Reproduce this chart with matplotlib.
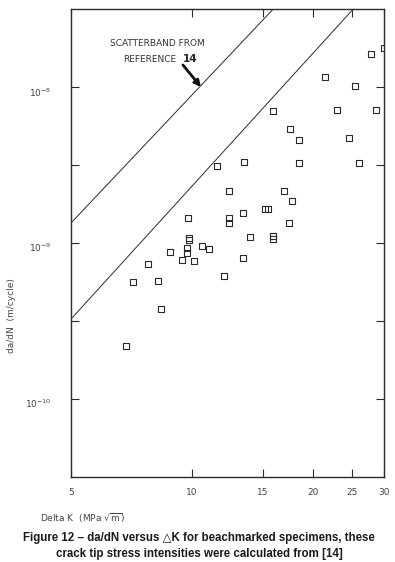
import numpy as np
import matplotlib
matplotlib.use("Agg")
import matplotlib.pyplot as plt
import matplotlib.transforms as mtransforms

plt.rcParams['mathtext.default'] = 'regular'

# delta K (MPa sqrt m) and da/dN (m/cycle)
dK = [6.85, 7.14, 8.24, 8.35, 7.76, 8.81, 9.42, 10.11, 9.69, 9.69,
      9.82, 9.82, 9.75, 10.57, 11.04, 11.55, 12.00, 12.33, 12.33, 12.35,
      13.38, 13.41, 13.46, 13.93, 15.22, 15.40, 15.85, 15.87, 15.85, 16.88,
      17.45, 17.52, 17.69, 18.39, 18.39, 21.40, 22.88, 24.60, 25.42, 25.93,
      27.86, 28.66, 30.0]
dadN = [2.19e-10, 5.58e-10, 5.73e-10, 3.75e-10, 7.28e-10, 8.79e-10, 7.78e-10, 7.66e-10, 9.29e-10, 8.69e-10,
        1.069e-9, 1.038e-9, 1.453e-9, 9.56e-10, 9.11e-10, 3.12e-9, 6.17e-10, 1.453e-9, 1.35e-9, 2.157e-9,
        1.551e-9, 8.04e-10, 3.31e-9, 1.088e-9, 1.653e-9, 1.653e-9, 7.07e-9, 1.109e-9, 1.061e-9, 2.167e-9,
        1.338e-9, 5.39e-9, 1.852e-9, 4.55e-9, 3.25e-9, 1.157e-8, 7.14e-9, 4.69e-9, 1.018e-8, 3.26e-9,
        1.628e-8, 7.14e-9, 1.793e-8]

# scatterband from reference 14 (end points)
band_upper_x = [5.0, 15.89]
band_upper_y = [1.344e-9, 3.162e-8]
band_lower_x = [5.0, 25.12]
band_lower_y = [3.25e-10, 3.162e-8]

xticks = [5, 10, 15, 20, 25, 30]
xticklabels = ['5', '10', '15', '20', '25', '30']
yticks = [1e-10, 10**-9.5, 1e-9, 10**-8.5, 1e-8]
yticklabels = ['$10^{-10}$', '', '$10^{-9}$', '', '$10^{-8}$']

W, H = 395, 562
fig = plt.figure(figsize=(W / 100, H / 100), dpi=100)
ax = fig.add_axes([71 / W, 1 - 476.7 / H, 313 / W, 467.4 / H])

ink = '#2a2a2a'
rect = [(-1.35, -1), (1.35, -1), (1.35, 1), (-1.35, 1), (-1.35, -1)]

ax.plot(band_upper_x, band_upper_y, color=ink, lw=0.7)
ax.plot(band_lower_x, band_lower_y, color=ink, lw=0.7)
ax.plot(dK, dadN, linestyle='none', marker=rect, markersize=5,
        markerfacecolor='none', markeredgecolor=ink, markeredgewidth=0.8)

ax.set_xscale('log')
ax.set_yscale('log')
ax.set_xlim(5, 30)
ax.set_ylim(10**-10.5, 10**-7.5)

ax.xaxis.set_minor_locator(matplotlib.ticker.NullLocator())
ax.yaxis.set_minor_locator(matplotlib.ticker.NullLocator())
ax.set_xticks(xticks)
ax.set_xticklabels(xticklabels)
ax.set_yticks(yticks)
ax.set_yticklabels(yticklabels)
ax.tick_params(axis='both', direction='in', length=6, width=0.8, color=ink,
               top=True, right=True, labelsize=6.5, labelcolor='#444444')
ax.tick_params(axis='x', pad=8)
ax.tick_params(axis='y', pad=14)
off = mtransforms.ScaledTranslation(0, -3 / 72, fig.dpi_scale_trans)
for lab in ax.get_yticklabels():
    lab.set_transform(lab.get_transform() + off)
for sp in ax.spines.values():
    sp.set_linewidth(1.0)
    sp.set_color(ink)

# annotation for the scatterband
fig.text(110 / W, 1 - 44 / H, 'SCATTERBAND FROM', fontsize=6.5, color='#333333',
         family='DejaVu Sans', va='center', ha='left')
fig.text(123 / W, 1 - 59 / H, 'REFERENCE', fontsize=6.5, color='#333333',
         family='DejaVu Sans', va='center', ha='left')
fig.text(183 / W, 1 - 59 / H, '14', fontsize=7.5, color='#222222',
         family='DejaVu Sans', weight='bold', va='center', ha='left')
ax.annotate('', xy=(10.52, 1.003e-8), xytext=(9.49, 1.389e-8),
            arrowprops=dict(arrowstyle='-|>', color='#111111', lw=2.0,
                            mutation_scale=9, shrinkA=0, shrinkB=0))

fig.text(12 / W, 1 - 316 / H, 'da/dN  (m/cycle)', rotation=90, fontsize=6.5,
         color='#444444', va='center', ha='center')
fig.text(40 / W, 1 - 518 / H, 'Delta K  (MPa $\\sqrt{m}$)', fontsize=6.5,
         color='#444444', va='center', ha='left')

cap_font = ['Liberation Sans', 'DejaVu Sans']
fig.text(199 / W, 1 - 538 / H,
         'Figure 12 \u2013 da/dN versus \u25b3K for beachmarked specimens, these',
         fontsize=8.3, weight='bold', family=cap_font, color='#1a1a1a',
         ha='center', va='center')
fig.text(199 / W, 1 - 554 / H,
         'crack tip stress intensities were calculated from [14]',
         fontsize=8.3, weight='bold', family=cap_font, color='#1a1a1a',
         ha='center', va='center')

fig.savefig('out.png', dpi=100)
